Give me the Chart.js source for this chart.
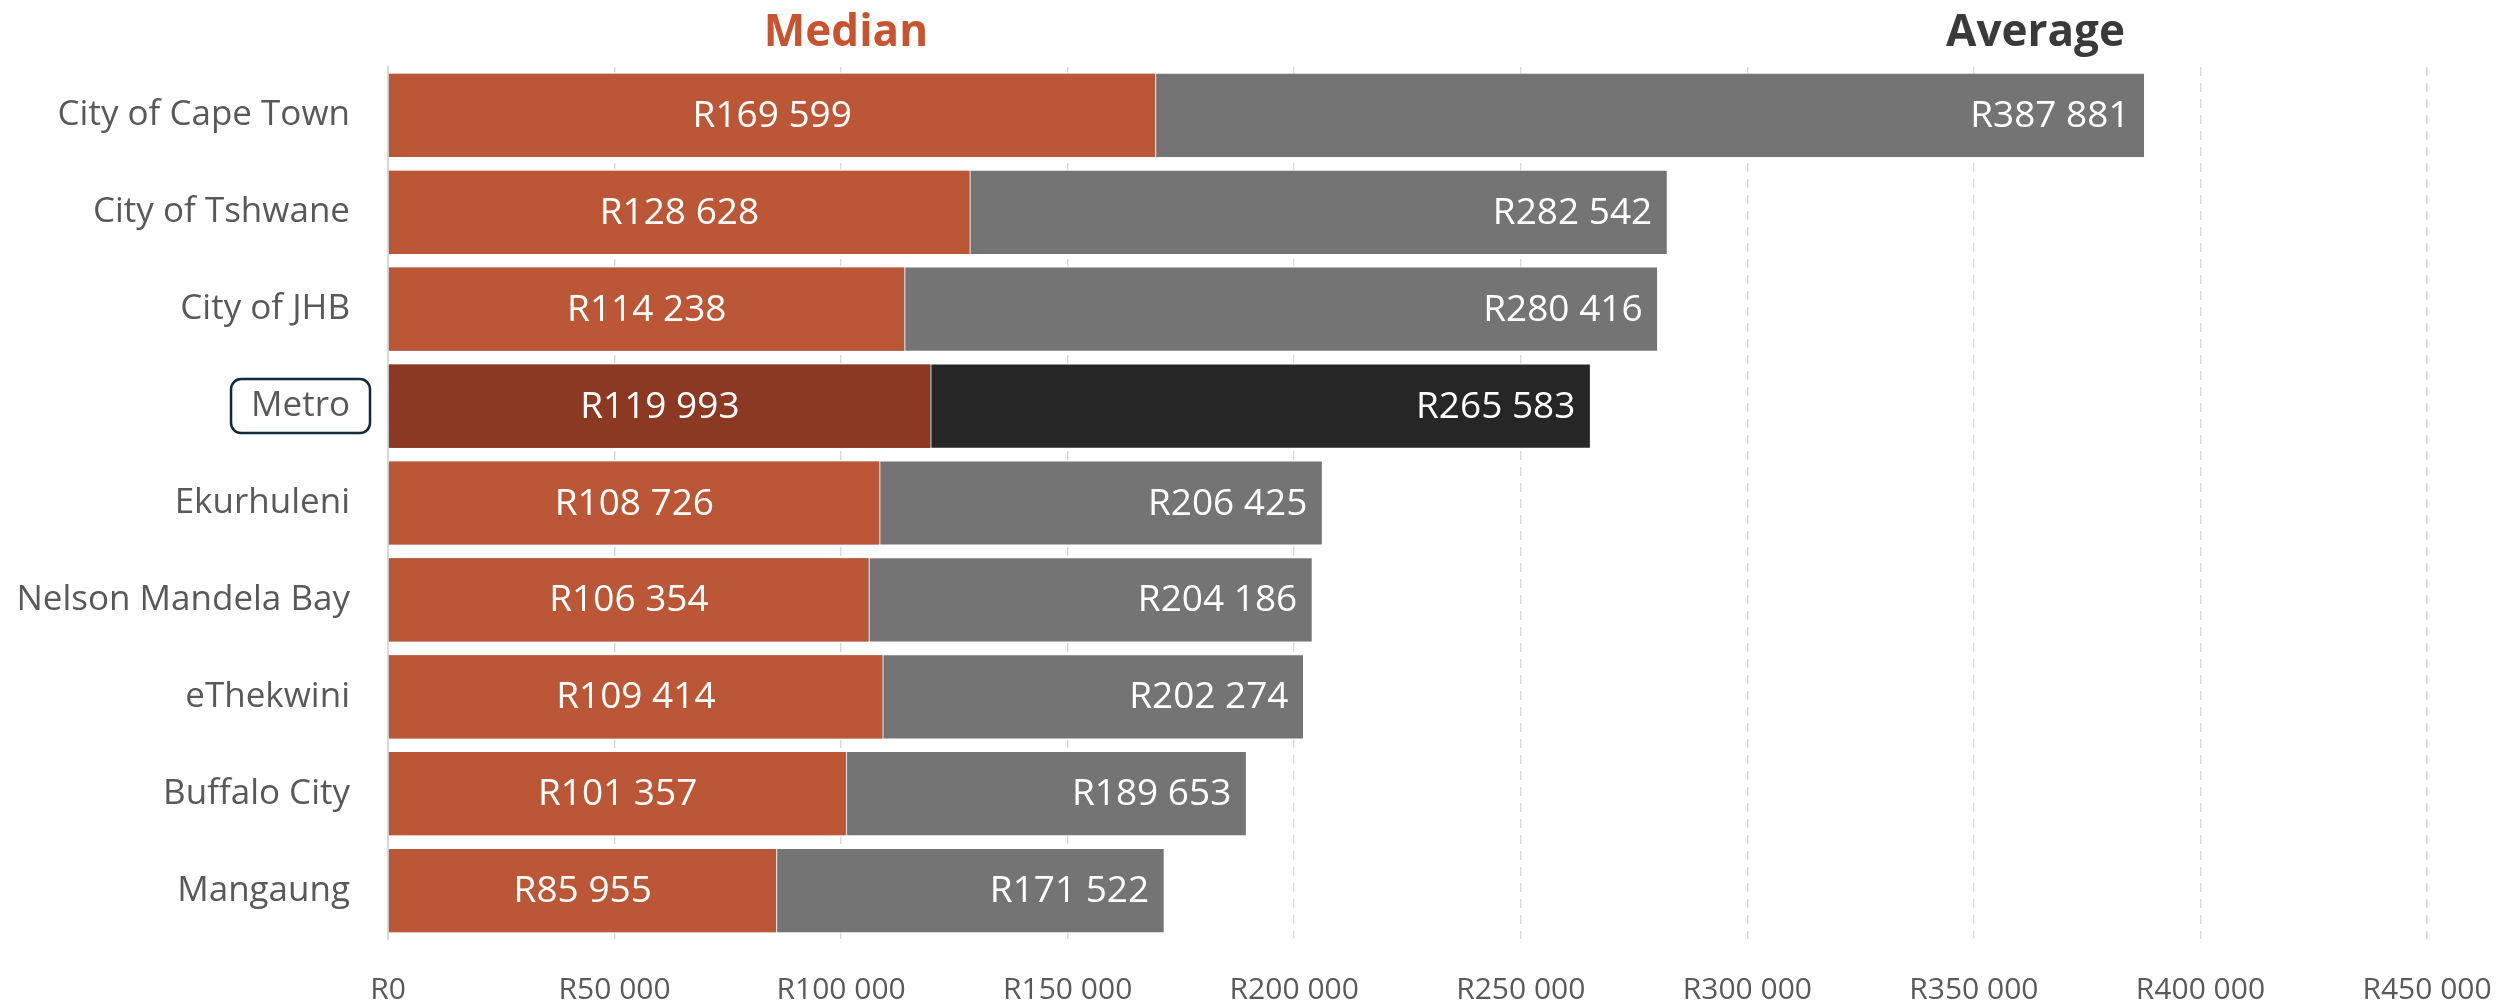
<!DOCTYPE html>
<html>
<head>
<meta charset="utf-8">
<script src="https://cdn.jsdelivr.net/npm/chart.js@4"></script>
<style>
  html, body { margin: 0; padding: 0; background: #ffffff; }
  #wrap { width: 2502px; height: 1004px; }
</style>
</head>
<body>
<div id="wrap"><canvas id="chart"></canvas></div>
<script>
const categories = ['City of Cape Town', 'City of Tshwane', 'City of JHB', 'Metro', 'Ekurhuleni',
    'Nelson Mandela Bay', 'eThekwini', 'Buffalo City', 'Mangaung'];
const medianValues = [169599, 128628, 114238, 119993, 108726, 106354, 109414, 101357, 85955];
const averageValues = [387881, 282542, 280416, 265583, 206425, 204186, 202274, 189653, 171522];
const xTicks = [0, 50000, 100000, 150000, 200000, 250000, 300000, 350000, 400000, 450000];
const highlight = 'Metro';

const FONT = "'Open Sans', 'Noto Sans', sans-serif";

function rand(v) {
    return 'R' + String(Math.round(v)).replace(/\B(?=(\d{3})+(?!\d))/g, ' ');
}

const medianColors = categories.map(c => c === highlight ? '#8b3922' : '#bb5737');
const averageColors = categories.map(c => c === highlight ? '#262626' : '#747474');

// labels inside the bars + the two column headings + box round "Metro"
const extras = {
    id: 'extras',
    afterDatasetsDraw(chart) {
        const ctx = chart.ctx;
        const x = chart.scales.x;
        ctx.save();
        ctx.font = '37px ' + FONT;
        ctx.fillStyle = '#ffffff';
        ctx.textBaseline = 'middle';

        chart.getDatasetMeta(1).data.forEach((bar, i) => {
            ctx.textAlign = 'right';
            ctx.fillText(rand(averageValues[i]), bar.x - 16, bar.y + 1);
        });
        chart.getDatasetMeta(0).data.forEach((bar, i) => {
            ctx.textAlign = 'center';
            ctx.fillText(rand(medianValues[i]), (x.getPixelForValue(0) + bar.x) / 2, bar.y + 1);
        });
        ctx.restore();
    },
    afterDraw(chart) {
        const ctx = chart.ctx;
        const area = chart.chartArea;
        const y = chart.scales.y;
        ctx.save();
        ctx.font = 'bold 44px ' + FONT;
        ctx.textAlign = 'center';
        ctx.textBaseline = 'alphabetic';
        ctx.fillStyle = '#c8532f';
        ctx.fillText('Median', area.left + (area.right - area.left) * 0.2246, 46);
        ctx.fillStyle = '#3a3a3a';
        ctx.fillText('Average', area.left + (area.right - area.left) * 0.808, 46);

        // rounded box around the highlighted category
        const idx = categories.indexOf(highlight);
        const cy = y.getPixelForValue(idx);
        ctx.font = '35px ' + FONT;
        const w = ctx.measureText(highlight).width;
        const right = y.right - 18;
        const left = right - w - 40;
        ctx.beginPath();
        ctx.roundRect(left, cy - 27, right - left, 54, 10);
        ctx.lineWidth = 2.5;
        ctx.strokeStyle = '#0f2a3a';
        ctx.stroke();
        ctx.restore();
    }
};

new Chart(document.getElementById('chart'), {
    type: 'bar',
    data: {
        labels: categories,
        datasets: [
            {
                label: 'Median',
                data: medianValues,
                backgroundColor: medianColors,
                borderColor: 'rgba(255,255,255,0.75)',
                borderWidth: 1.5,
                categoryPercentage: 0.89,
                barPercentage: 1
            },
            {
                label: 'Average',
                data: averageValues,
                backgroundColor: averageColors,
                borderColor: 'rgba(255,255,255,0.6)',
                borderWidth: 1.5,
                categoryPercentage: 0.89,
                barPercentage: 1
            }
        ]
    },
    options: {
        indexAxis: 'y',
        responsive: true,
        maintainAspectRatio: false,
        animation: false,
        grouped: false,
        layout: { padding: { left: 0, right: 75, top: 67, bottom: 0 } },
        plugins: {
            legend: { display: false },
            tooltip: { enabled: false }
        },
        scales: {
            x: {
                min: 0,
                max: 450000,
                afterBuildTicks: (scale) => { scale.ticks = xTicks.map(v => ({ value: v })); },
                afterFit: (scale) => {
                    scale.height = 65;
                    scale.paddingLeft = 0;
                    scale.paddingRight = 0;
                },
                ticks: {
                    color: '#595959',
                    font: { family: FONT, size: 30 },
                    padding: 33,
                    callback: (v) => rand(v)
                },
                grid: {
                    color: '#d9d9d9',
                    lineWidth: 1.5,
                    drawTicks: false
                },
                border: { display: false, dash: [9, 7] }
            },
            y: {
                afterFit: (scale) => { scale.width = 388; },
                ticks: {
                    color: '#595959',
                    font: { family: FONT, size: 35 },
                    padding: 30
                },
                grid: { display: false },
                border: { display: true, color: '#d9d9d9', width: 2 }
            }
        }
    },
    plugins: [extras]
});
</script>
</body>
</html>
